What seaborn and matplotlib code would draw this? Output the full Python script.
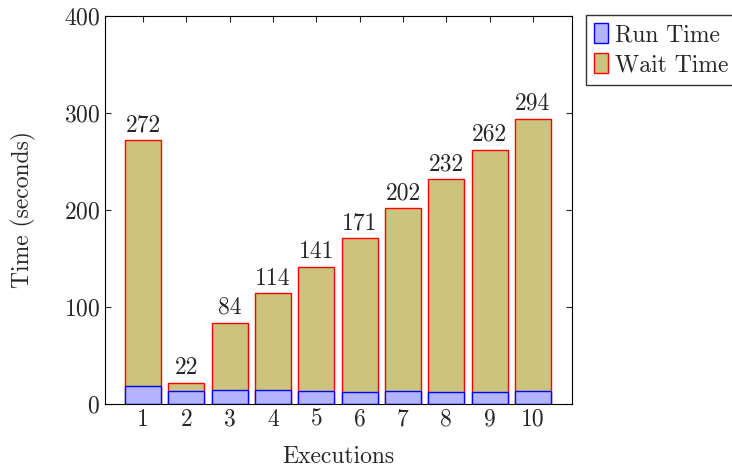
import pandas as pd
import numpy as np
import matplotlib.pyplot as plt
import seaborn as sns
from matplotlib.patches import Patch

## Daten
executions = ['1', '2', '3', '4', '5', '6', '7', '8', '9', '10']
run_time = [19, 13, 14, 14, 13, 12, 13, 12, 12, 13]
total_time = [272, 22, 84, 114, 141, 171, 202, 232, 262, 294]
wait_time = [t - r for t, r in zip(total_time, run_time)]

df = pd.DataFrame({'Execution': executions, 'Run': run_time,
                   'Wait': wait_time, 'Total': total_time})

sns.set_style('ticks')
plt.rcParams['font.family'] = ['serif']
plt.rcParams['font.serif'] = ['cmr10', 'DejaVu Serif']
plt.rcParams['mathtext.fontset'] = 'cm'
plt.rcParams['axes.formatter.use_mathtext'] = True

run_col = '#B3B3FF'
wait_col = '#CCC47E'
fs = 17

fig = plt.figure(figsize=(7.32, 4.69), dpi=100)
ax = fig.add_axes([0.1434, 0.1386, 0.638, 0.8273])

# Gesamtbalken (Wait), darüber die Run-Balken
sns.barplot(data=df, x='Execution', y='Total', color=wait_col, saturation=1,
            width=0.83, edgecolor='red', linewidth=1, ax=ax)
sns.barplot(data=df, x='Execution', y='Run', color=run_col, saturation=1,
            width=0.83, edgecolor='blue', linewidth=1, ax=ax)

for i, t in enumerate(total_time):
    ax.text(i, t + 4, str(t), ha='center', va='bottom', fontsize=fs)

ax.set_xlim(-0.88, 9.9)
ax.set_ylim(0, 400)
ax.set_yticks([0, 100, 200, 300, 400])
ax.tick_params(direction='in', top=True, right=True, labelsize=fs, length=4)
for s in ax.spines.values():
    s.set_visible(True)
    s.set_color('black')
ax.set_xlabel('Executions', fontsize=fs, labelpad=11)
ax.set_ylabel('Time (seconds)', fontsize=fs, labelpad=20)

handles = [Patch(facecolor=run_col, edgecolor='blue', label='Run Time'),
           Patch(facecolor=wait_col, edgecolor='red', label='Wait Time')]
leg = fig.legend(handles=handles, loc='upper left', bbox_to_anchor=(0.8, 0.968),
                 fontsize=fs, frameon=True, fancybox=False, handlelength=0.6,
                 handleheight=0.9, handletextpad=0.3, borderpad=0.35,
                 labelspacing=0.3, borderaxespad=0)
leg.get_frame().set_edgecolor('black')
leg.get_frame().set_linewidth(1)

fig.savefig('out.png', dpi=100)
